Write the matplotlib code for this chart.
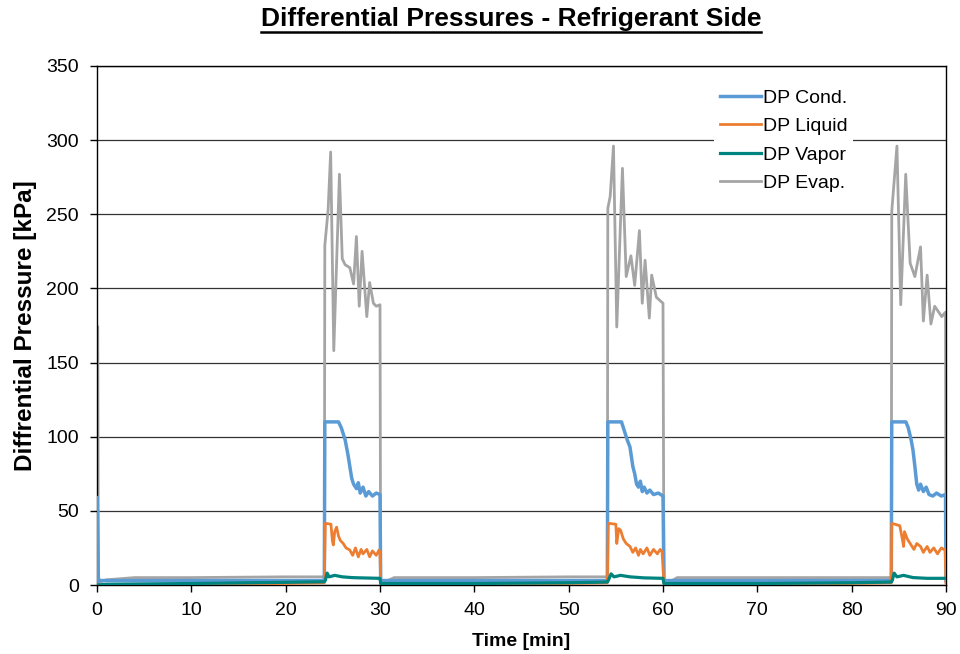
import matplotlib
matplotlib.use("Agg")
import matplotlib.pyplot as plt
from matplotlib.lines import Line2D

plt.rcParams['font.family'] = ['Liberation Sans', 'DejaVu Sans']

title = "Differential Pressures - Refrigerant Side"
xlabel = "Time [min]"
ylabel = "Diffrential Pressure [kPa]"
series_names = ["DP Cond.", "DP Liquid", "DP Vapor", "DP Evap."]
colors = ["#5B9BD5", "#ED7D31", "#00847F", "#A5A5A5"]
xticks = [0, 10, 20, 30, 40, 50, 60, 70, 80, 90]
yticks = [0, 50, 100, 150, 200, 250, 300, 350]

t_cond = [0, 0.02, 0.15, 1, 10, 24.1, 24.15, 25.6, 25.9, 26.3, 26.6, 26.8, 27.0, 27.2, 27.5, 27.7,
          27.9, 28.2, 28.5, 28.8, 29.2, 29.6, 30.0, 30.07, 40, 54.1, 54.15, 55.6, 55.9, 56.2, 56.5,
          56.8, 57.0, 57.2, 57.4, 57.6, 57.8, 58.0, 58.3, 58.6, 59.0, 59.5, 60.0, 60.1, 70, 84.2,
          84.25, 85.75, 86.0, 86.3, 86.5, 86.7, 86.9, 87.1, 87.3, 87.6, 87.9, 88.2, 88.6, 89.0, 89.5,
          89.95, 90]
dp_cond = [2, 59, 3, 3, 3, 3, 110, 110, 106, 98, 88, 80, 72, 68, 65, 69,
           62, 66, 60, 63, 60, 62, 61, 3, 3, 3, 110, 110, 104, 98, 93,
           80, 75, 68, 66, 70, 63, 66, 62, 64, 61, 62, 60, 3, 3, 3,
           110, 110, 106, 98, 91, 80, 68, 64, 68, 63, 66, 61, 60, 62, 60,
           61, 3]

t_liq = [0, 10, 20, 24.1, 24.2, 24.8, 24.95, 25.05, 25.2, 25.4, 25.6, 25.8, 26.1, 26.4, 26.8, 27.1,
         27.4, 27.7, 28.0, 28.2, 28.6, 28.9, 29.2, 29.6, 29.9, 30.0, 30.07, 40, 50, 54.1, 54.2,
         55.0, 55.1, 55.3, 55.5, 55.8, 56.1, 56.5, 56.8, 57.1, 57.4, 57.6, 57.9, 58.3, 58.6, 59.0,
         59.4, 59.7, 59.9, 60.1, 70, 80, 84.2, 84.25, 85.1, 85.4, 85.5, 85.6, 85.9, 86.2, 86.6,
         86.9, 87.3, 87.6, 88.0, 88.3, 88.7, 89.1, 89.5, 89.9, 90]
dp_liq = [0, 0.3, 1, 1.5, 41.6, 41, 30, 27, 36, 39, 33, 30, 28, 25, 23.6, 20,
          25, 19, 24, 21, 24, 19, 23, 20, 23.6, 22, 0.5, 0.5, 1, 1.5, 41.6,
          41, 28, 38, 37, 31, 28, 26, 22, 25, 20, 24, 21, 25, 20, 24,
          21, 24, 22.5, 0.5, 0.5, 1, 1.5, 41.6, 40, 30, 26, 36, 31, 28, 24,
          28, 26, 22, 26, 22, 25, 21, 25, 23.6, 1]

t_vap = [0, 1, 10, 20, 24.1, 24.2, 24.4, 24.6, 25.2, 26, 27, 28, 30, 30.07, 40, 50, 54.1, 54.2,
         54.5, 54.8, 55.5, 56.5, 58, 60, 60.1, 70, 80, 84.2, 84.3, 84.5, 84.8, 85.5, 86.5, 88, 90]
dp_vap = [0, 0.5, 1, 1.8, 2.2, 3, 8, 5.5, 6.5, 5.5, 5, 4.8, 4.5, 1, 1, 1.5, 2, 3,
          7.5, 5.5, 6.5, 5.5, 4.8, 4.5, 1, 1, 1.5, 2, 3, 8, 5.5, 6.5, 5, 4.5, 4.5]

t_evap = [0.08, 0.15, 0.3, 1, 3, 4, 10, 20, 24.1, 24.15, 24.5, 24.77, 25.1, 25.7, 26.0, 26.3, 26.8,
          27.2, 27.5, 27.8, 28.1, 28.6, 28.9, 29.3, 29.6, 30.0, 30.07, 30.3, 31.5, 40, 50, 54.1,
          54.15, 54.4, 54.75, 55.1, 55.7, 56.1, 56.6, 57.0, 57.5, 57.8, 58.1, 58.55, 58.8, 59.3,
          60.0, 60.1, 60.3, 61.5, 70, 80, 84.2, 84.25, 84.8, 85.2, 85.73, 86.2, 86.7, 87.3, 87.6,
          88.0, 88.4, 88.8, 89.55, 89.95, 90]
dp_evap = [174, 5, 2, 3.5, 4.5, 5, 5, 5.5, 5.5, 229, 253, 292, 158, 277, 220, 216, 214,
           203, 235, 188, 225, 181, 204, 190, 188, 189, 3, 1.5, 5, 5, 5.5, 5.5,
           254, 262, 296, 174, 281, 208, 222, 202, 239, 190, 219, 180, 209, 194,
           190, 3, 0.5, 5, 5, 5, 5, 252, 296, 189, 277, 217, 208, 228, 178,
           209, 176, 188, 181, 184, 2]

fig = plt.figure(figsize=(9.6, 6.54), dpi=100)
ax = fig.add_axes([97/960, 69/654, 849/960, 519/654])

ax.plot(t_cond, dp_cond, color=colors[0], lw=2.5, label=series_names[0], zorder=3)
ax.plot(t_liq, dp_liq, color=colors[1], lw=2.0, label=series_names[1], zorder=4)
ax.plot(t_vap, dp_vap, color=colors[2], lw=2.3, label=series_names[2], zorder=5)
ax.plot(t_evap, dp_evap, color=colors[3], lw=2.0, label=series_names[3], zorder=2)

ax.set_xlim(0, 90)
ax.set_ylim(0, 350)
ax.set_xticks(xticks)
ax.set_yticks(yticks)
ax.tick_params(axis='both', direction='out', length=5, width=1, labelsize=14, color='black')
ax.tick_params(axis='y', pad=8)
ax.tick_params(axis='x', pad=7)
ax.yaxis.grid(True, color='#333333', lw=0.9)
ax.set_axisbelow(True)
for s in ax.spines.values():
    s.set_color('black')
    s.set_linewidth(1)

ax.set_xlabel(xlabel, fontsize=14, fontweight='bold', labelpad=10)
ax.set_ylabel(ylabel, fontsize=17.5, fontweight='bold', labelpad=7)

leg = ax.legend(loc='upper right', bbox_to_anchor=(0.902, 0.985), frameon=True, fontsize=14,
                handlelength=2.1, handletextpad=0.1, labelspacing=0.55, borderpad=0.3)
leg.get_frame().set_edgecolor('none')
leg.get_frame().set_facecolor('white')
leg.get_frame().set_alpha(1)

tt = fig.text(511/960, 1 - 19/654, title, ha='center', va='center', fontsize=19, fontweight='bold')
fig.canvas.draw()
bb = tt.get_window_extent()
fig.add_artist(Line2D([bb.x0 / 960, bb.x1 / 960], [(bb.y0 - 1) / 654, (bb.y0 - 1) / 654],
                      transform=fig.transFigure, color='black', lw=1.8))

fig.savefig("out.png", dpi=100)
